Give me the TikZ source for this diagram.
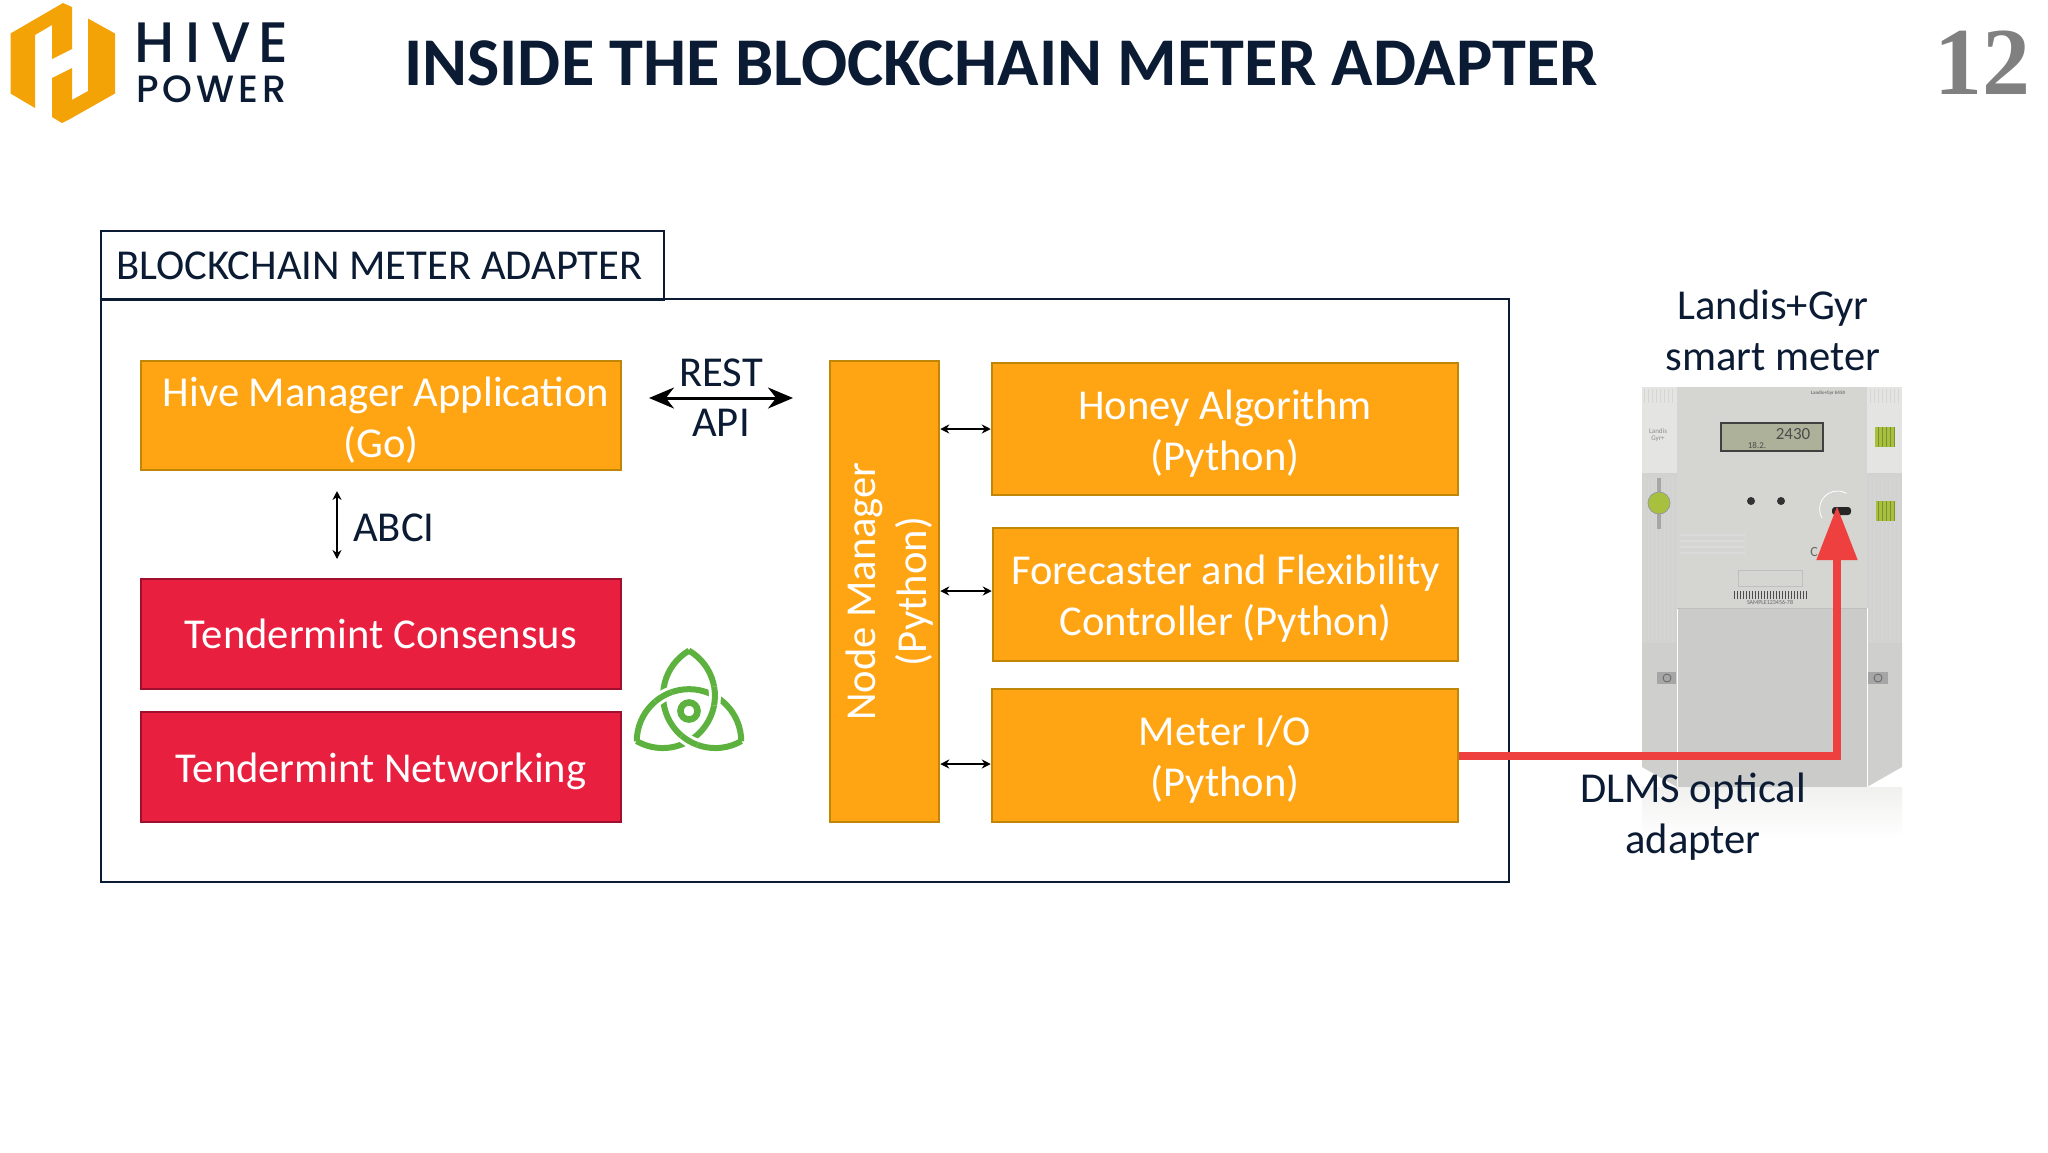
\documentclass[tikz,border=0pt]{standalone}
\usepackage{fontspec}
\setmainfont{Carlito}
\newfontfamily\logofont[UprightFont=*-Medium]{Poppins}
\newfontfamily\numfont{Liberation Serif}
\usetikzlibrary{arrows.meta}
\definecolor{inkblue}{HTML}{0B1B33}
\definecolor{boxorange}{HTML}{FFA412}
\definecolor{edgeorange}{HTML}{BF8608}
\definecolor{boxred}{HTML}{E81F3F}
\definecolor{edgered}{HTML}{A0102E}
\definecolor{logoorange}{HTML}{F4A307}
\definecolor{knotgreen}{HTML}{5DB13F}
\definecolor{linered}{HTML}{EF4040}
\definecolor{meterlight}{HTML}{E4E5E3}
\definecolor{meterpanel}{HTML}{D5D6D2}
\definecolor{meterlow}{HTML}{CBCCC9}
\definecolor{metergreen}{HTML}{A7C13F}
\definecolor{meterlcd}{HTML}{ADB199}
\tikzset{
	orangebox/.style={draw=edgeorange,fill=boxorange,line width=2.5pt,inner sep=0pt},
	redbox/.style={draw=edgered,fill=boxred,line width=2.5pt,text=white,align=center,inner sep=0pt},
	boxtext/.style={text=white,align=center,inner sep=0pt},
	frame/.style={draw=inkblue,line width=2.5pt},
	label/.style={text=inkblue,align=center,inner sep=0pt},
	bodyfont/.style={font=\fontsize{42.6}{51}\selectfont},
	link/.style={{Stealth[length=9pt,width=9pt]}-{Stealth[length=9pt,width=9pt]},line width=2pt,draw=black},
	biglink/.style={{Stealth[length=25pt,width=21pt]}-{Stealth[length=25pt,width=21pt]},line width=3pt,draw=black},
	knot/.style={draw=knotgreen,line width=6pt},
	rib/.style={draw=black!16,line width=0.5pt}
}
\begin{document}
\begin{tikzpicture}[x=1pt,y=1pt,bodyfont]
	\useasboundingbox (0,0) rectangle (2048,-1152);
	\fill[white] (0,0) rectangle (2048,-1152);

	\fill[logoorange] (10.5,-33.5) -- (63,-3) -- (72,-7) -- (72,-49) -- (52,-59) -- (52,-25) -- (35,-35) -- (35,-108) -- (10.5,-93.5) -- cycle;
	\fill[logoorange] (88,-18.5) -- (115,-33.5) -- (115,-93.5) -- (70,-119) -- (62,-123) -- (52,-117) -- (52,-78) -- (72,-68) -- (72,-100) -- (88,-91) -- cycle;
	\node[anchor=north west,inner sep=0pt,text=inkblue,align=left,font=\logofont\fontsize{38}{40}\selectfont] (wordmark) at (134,-23) {{\fontsize{57}{40}\selectfont H\hspace{11pt}I\hspace{11pt}V\hspace{8pt}E}\\\hspace*{2pt}P\hspace{4pt}O\hspace{4pt}W\hspace{4pt}E\hspace{4pt}R};
	\node[anchor=base west,inner sep=0pt,text=inkblue,font=\bfseries\fontsize{68.3}{68}\selectfont] (title) at (404,-85) {INSIDE THE BLOCKCHAIN METER ADAPTER};
	\node[anchor=base east,inner sep=0pt,text=black!50,font=\numfont\bfseries\fontsize{96}{96}\selectfont] (pagenum) at (2031,-94) {12};

	\fill[top color=meterpanel!35,bottom color=white] (1642,-787) rectangle (1902,-838);
	\fill[meterlight] (1642,-387) rectangle (1677,-473);
	\fill[meterlight] (1867,-387) rectangle (1902,-473);
	\fill[meterlight!92!black] (1642,-473) rectangle (1677,-767);
	\fill[meterlight!92!black] (1867,-473) rectangle (1902,-767);
	\fill[meterlow!92!white] (1642,-643) -- (1677,-643) -- (1677,-787) -- (1642,-767) -- cycle;
	\fill[meterlow!92!white] (1867,-643) -- (1902,-643) -- (1902,-767) -- (1867,-787) -- cycle;
	\fill[meterpanel] (1677,-387) rectangle (1867,-608);
	\fill[meterlow] (1677,-608) rectangle (1867,-787);
	\foreach \x in {1644,1648,...,1674}
		\draw[rib] (\x,-477) -- (\x,-643);
	\foreach \x in {1870,1874,...,1900}
		\draw[rib] (\x,-477) -- (\x,-643);
	\foreach \x in {1644,1648,...,1674}
		\draw[rib] (\x,-389) -- (\x,-403);
	\foreach \x in {1870,1874,...,1900}
		\draw[rib] (\x,-389) -- (\x,-403);
	\draw[draw=white,line width=1pt] (1677,-608) -- (1677,-787);
	\draw[draw=white,line width=1pt] (1867,-608) -- (1867,-787);
	\draw[draw=black!25,line width=0.8pt] (1677,-608) -- (1867,-608);
	\fill[black!35] (1657,-672) rectangle (1676,-684);
	\fill[black!35] (1868,-672) rectangle (1888,-684);
	\draw[black!60,line width=0.8pt] (1667,-678) circle (4);
	\draw[black!60,line width=0.8pt] (1878,-678) circle (4);
	\draw[fill=meterlcd,draw=black!75,line width=1.2pt] (1721,-423) rectangle (1823,-451);
	\node[inner sep=0pt,text=black!70,font=\fontsize{17}{17}\selectfont] (reading) at (1793,-434) {2430};
	\node[inner sep=0pt,text=black!70,font=\fontsize{9}{9}\selectfont] (register) at (1757,-445) {18.2.};
	\node[inner sep=0pt,text=black!55,font=\bfseries\fontsize{5}{5}\selectfont] (model) at (1828,-393) {Landis+Gyr E450};
	\node[inner sep=0pt,text=black!45,align=center,font=\fontsize{7}{7}\selectfont] (brand) at (1658,-435) {Landis\\Gyr+};
	\node[inner sep=0pt,text=black!60,font=\fontsize{14}{14}\selectfont] (cemark) at (1814,-552) {C};
	\fill[metergreen] (1875,-427) rectangle (1895,-447);
	\fill[metergreen] (1876,-501) rectangle (1895,-521);
	\foreach \x in {1878,1882,...,1894} {
		\draw[draw=metergreen!75!black,line width=0.5pt] (\x,-427) -- (\x,-447);
		\draw[draw=metergreen!75!black,line width=0.5pt] (\x,-501) -- (\x,-521);
	}
	\fill[black!35] (1657,-478) rectangle (1661,-529);
	\draw[fill=metergreen,draw=black!40,line width=0.8pt] (1659,-503) circle (11);
	\fill[black!80] (1751,-501) circle (4);
	\fill[black!80] (1781,-501) circle (4);
	\draw[draw=white,line width=0.8pt] (1822,-518) arc (210:60:18);
	\fill[black!85,rounded corners=3pt] (1832,-507) rectangle (1851,-515);
	\foreach \x in {1734,1737,...,1806}
		\draw[draw=black!70,line width=1pt] (\x,-591) -- (\x,-599);
	\node[inner sep=0pt,text=black!60,font=\fontsize{6}{6}\selectfont] (serial) at (1770,-602) {SAMPLE123456-78};
	\foreach \y in {-535,-541,-547,-553}
		\draw[draw=black!14,line width=1.5pt] (1680,\y) -- (1745,\y);
	\draw[draw=black!25,line width=0.7pt] (1738,-570) rectangle (1802,-586);

	\draw[frame,fill=white] (101,-231) rectangle (664,-300);
	\draw[frame] (101,-299) rectangle (1509,-882);
	\node[anchor=base west,label] (titletab) at (116,-279) {BLOCKCHAIN METER ADAPTER};

	\node[orangebox,minimum width=480pt,minimum height=109pt] (hivemgr) at (381,-415.5) {};
	\node[redbox,minimum width=480pt,minimum height=110pt] (consensus) at (381,-634) {Tendermint Consensus};
	\node[redbox,minimum width=480pt,minimum height=110pt,execute at begin node={\rule{0pt}{39pt}}] (networking) at (381,-767) {Tendermint Networking};
	\node[orangebox,minimum width=109pt,minimum height=461pt] (nodemgr) at (884.5,-591.5) {};
	\node[orangebox,minimum width=466pt,minimum height=132pt] (honey) at (1225,-429) {};
	\node[orangebox,minimum width=465pt,minimum height=133pt] (forecaster) at (1225.5,-594.5) {};
	\node[orangebox,minimum width=466pt,minimum height=133pt] (meterio) at (1225,-755.5) {};
	\node[boxtext] (hivetext) at ([yshift=-4.5pt]hivemgr.center) {\hspace*{10pt}Hive Manager Application\\(Go)};
	\node[boxtext,rotate=90] (nodetext) at ([xshift=5pt]nodemgr.center) {Node Manager\\(Python)};
	\node[boxtext] (honeytext) at ([yshift=-5pt]honey.center) {Honey Algorithm\\(Python)};
	\node[boxtext] (forecastertext) at ([yshift=-4pt]forecaster.center) {Forecaster and Flexibility\\Controller (Python)};
	\node[boxtext] (metertext) at ([yshift=-4pt]meterio.center) {Meter I/O\\(Python)};

	\path ([yshift=3.5pt]forecaster.west) coordinate (forecastport);
	\path ([yshift=-8.5pt]meterio.west) coordinate (ioport);
	\draw[link] (nodemgr.east |- honey.west) -- (honey.west);
	\draw[link] (nodemgr.east |- forecastport) -- (forecastport);
	\draw[link] (nodemgr.east |- ioport) -- (ioport);

	\path (649,-398) coordinate (restleft);
	\path (793,-398) coordinate (restright);
	\path (337,-491) coordinate (abcitop);
	\path (337,-559) coordinate (abcibottom);
	\path (1837,-506) coordinate (opticport);
	\draw[biglink] (restleft) -- (restright);
	\draw[link] (abcitop) -- (abcibottom);
	\node[label] (rest) at (721,-373) {REST};
	\node[label] (api) at (721,-423) {API};
	\node[anchor=west,label] (abci) at (353,-528) {ABCI};

	\draw[draw=linered,line width=8pt,-{Triangle[length=54pt,width=39pt]}] (meterio.east) -| (opticport);

	\node[label] (landis) at (1773,-330) {Landis+Gyr\\smart meter};
	\node[label] (dlms) at (1693,-817) {DLMS optical\\adapter};

	\begin{scope}[shift={(689,-711)},scale=0.95]
		\draw[draw=knotgreen,line width=6.5pt] (0,0) circle (9);
		\foreach \r in {0,120,240}
			\draw[knot,rotate=\r] (-55,-32) arc (180:0:55);
		\foreach \r in {0,120,240} {
			\begin{scope}[rotate=\r]
				\clip (150:31.5) circle (10);
				\draw[draw=white,line width=12pt] (-55,-32) arc (180:0:55);
				\draw[knot] (-55,-32) arc (180:0:55);
			\end{scope}
		}
	\end{scope}
\end{tikzpicture}
\end{document}
